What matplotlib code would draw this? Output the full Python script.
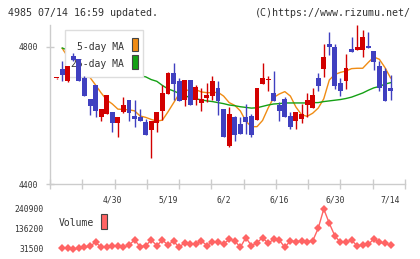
import numpy as np
import matplotlib
matplotlib.use('Agg')
import matplotlib.pyplot as plt
from matplotlib.patches import Rectangle

# ---------------- data ----------------
opens = [4708, 4735, 4701, 4773, 4764, 4708, 4648, 4688, 4596, 4603,
         4610, 4579, 4610, 4645, 4598, 4596, 4581, 4557, 4579, 4614,
         4663, 4723, 4700, 4645, 4702, 4645, 4637, 4650, 4656, 4679,
         4618, 4511, 4594, 4574, 4594, 4597, 4587, 4691, 4702, 4665,
         4630, 4648, 4598, 4582, 4588, 4630, 4622, 4709, 4736, 4808,
         4799, 4694, 4701, 4793, 4790, 4790, 4803, 4787, 4744, 4729,
         4680]
highs = [4709, 4758, 4744, 4781, 4764, 4715, 4648, 4688, 4618, 4659,
         4610, 4595, 4652, 4645, 4645, 4617, 4590, 4583, 4610, 4688,
         4727, 4751, 4708, 4702, 4702, 4688, 4680, 4695, 4715, 4700,
         4618, 4623, 4598, 4596, 4633, 4604, 4681, 4753, 4715, 4729,
         4640, 4654, 4611, 4610, 4633, 4666, 4679, 4724, 4808, 4842,
         4808, 4708, 4779, 4829, 4863, 4849, 4843, 4787, 4758, 4737,
         4717]
lows = [4707, 4701, 4698, 4758, 4700, 4656, 4601, 4596, 4582, 4603,
        4552, 4538, 4606, 4582, 4567, 4582, 4543, 4475, 4552, 4586,
        4663, 4645, 4642, 4628, 4631, 4630, 4614, 4640, 4645, 4601,
        4538, 4507, 4526, 4547, 4546, 4538, 4587, 4691, 4671, 4643,
        4582, 4596, 4561, 4561, 4579, 4594, 4622, 4671, 4713, 4777,
        4677, 4656, 4677, 4783, 4790, 4769, 4797, 4732, 4672, 4643,
        4645]
closes = [4708, 4716, 4744, 4761, 4701, 4656, 4628, 4614, 4618, 4659,
          4579, 4595, 4629, 4607, 4588, 4582, 4543, 4583, 4610, 4665,
          4723, 4692, 4642, 4702, 4631, 4683, 4648, 4659, 4700, 4643,
          4538, 4604, 4543, 4547, 4581, 4543, 4681, 4710, 4704, 4643,
          4614, 4596, 4567, 4610, 4604, 4645, 4659, 4686, 4770, 4800,
          4686, 4672, 4738, 4783, 4799, 4829, 4797, 4756, 4681, 4643,
          4672]
ma5 = [np.nan, 4795, 4770, 4755, 4738, 4723, 4710, 4688, 4665, 4645,
       4633, 4618, 4617, 4616, 4613, 4598, 4594, 4588, 4583, 4586,
       4610, 4636, 4662, 4671, 4675, 4675, 4668, 4666, 4666, 4667,
       4656, 4637, 4629, 4613, 4583, 4567, 4567, 4585, 4621, 4652,
       4662, 4669, 4656, 4624, 4602, 4597, 4606, 4621, 4648, 4703,
       4719, 4725, 4729, 4736, 4737, 4737, 4754, 4770, 4763, 4739,
       4709]
ma25 = [np.nan, 4796, 4790, 4784, 4779, 4773, 4767, 4761, 4755, 4750,
        4744, 4738, 4732, 4726, 4720, 4715, 4712, 4704, 4699, 4687,
        4677, 4671, 4664, 4658, 4651, 4648, 4645, 4642, 4640, 4637,
        4634, 4630, 4628, 4625, 4623, 4621, 4622, 4626, 4630, 4633,
        4634, 4636, 4636, 4636, 4636, 4636, 4637, 4637, 4640, 4642,
        4644, 4646, 4649, 4653, 4659, 4665, 4673, 4680, 4684, 4691,
        4695]
volume = [np.nan, 35000, 35000, 31500, 35000, 40200, 47200, 66400, 40200, 40200,
          48950, 48950, 40200, 52400, 78600, 43700, 48950, 78600, 48950, 78600,
          52400, 73400, 40200, 64650, 57700, 57700, 75100, 48950, 69900, 66400,
          57700, 82100, 75100, 40200, 90800, 48950, 64650, 90800, 61200, 82100,
          78600, 40200, 75100, 69900, 75100, 69900, 73400, 139700, 240900, 165900,
          99550, 66400, 66400, 78600, 47200, 52400, 55900, 83850, 66400, 61200,
          52400]
date_labels = ['4/30', '5/19', '6/2', '6/16', '6/30', '7/14']
date_idx = [10, 20, 30, 40, 50, 60]
price_ticks = [4400, 4800]
price_top = 4863
vol_ticks = [31500, 136200, 240900]

# ---------------- style ----------------
W, H = 420, 259
UP = '#d20000'
DOWN = '#4040c0'
ORANGE = '#f08c14'
GREEN = '#14a014'
VOLC = '#ff6464'
AXC = '#cccccc'
TXT = '#333333'
FONT = 'DejaVu Sans Mono'
plt.rcParams['font.family'] = FONT

def fx(px):
    return px / W

def fy(py):
    return 1 - py / H

fig = plt.figure(figsize=(W / 100, H / 100), dpi=100)
fig.patch.set_facecolor('white')

n = len(opens)
x = np.arange(n)
x0 = -1.2
x1 = 62.6

# ---- main price axes ----
ax = fig.add_axes([fx(50), fy(184), fx(405) - fx(50), fy(25) - fy(184)])
ax.set_xlim(x0, x1)
ax.set_ylim(price_ticks[0], price_top)
for s in ['top', 'right']:
    ax.spines[s].set_visible(False)
for s in ['left', 'bottom']:
    ax.spines[s].set_color(AXC)
    ax.spines[s].set_linewidth(1.0)

o = np.array(opens, float)
c = np.array(closes, float)
h = np.array(highs, float)
l = np.array(lows, float)
up = c >= o
cols = np.where(up, UP, DOWN)
bottoms = np.minimum(o, c)
heights = np.maximum(np.abs(c - o), 2.5)

ax.plot(x, ma5, color=ORANGE, lw=1.0, zorder=2)
ax.plot(x, ma25, color=GREEN, lw=1.0, zorder=2)

# legend box (drawn under candles, above MA lines)
ax.add_patch(Rectangle((fx(65), fy(77)), fx(143) - fx(65), fy(30) - fy(77),
                       transform=fig.transFigure, facecolor='white',
                       edgecolor='#dddddd', lw=1.0, zorder=3, clip_on=False))
ax.text(fx(124), fy(46.5), '5-day MA', transform=fig.transFigure, ha='right',
        va='center', fontsize=7, color=TXT, zorder=3.5)
ax.text(fx(124), fy(63.5), '25-day MA', transform=fig.transFigure, ha='right',
        va='center', fontsize=7, color=TXT, zorder=3.5)
ax.add_patch(Rectangle((fx(132), fy(51.5)), fx(138) - fx(132), fy(37.5) - fy(51.5),
                       transform=fig.transFigure, facecolor=ORANGE,
                       edgecolor='#444444', lw=0.8, zorder=3.5, clip_on=False))
ax.add_patch(Rectangle((fx(132), fy(68.5)), fx(138) - fx(132), fy(54.5) - fy(68.5),
                       transform=fig.transFigure, facecolor=GREEN,
                       edgecolor='#444444', lw=0.8, zorder=3.5, clip_on=False))

ax.vlines(x, l, h, colors=cols, lw=1.0, zorder=4)
ax.bar(x, heights, bottom=bottoms, width=0.88, color=cols, lw=0, zorder=4.5)

ax.set_yticks(price_ticks)
ax.set_yticklabels([str(t) for t in price_ticks])
ax.tick_params(axis='y', direction='inout', length=6, width=1, color=AXC,
               pad=5.5, labelsize=5.8, labelcolor=TXT)
ax.set_xticks(np.linspace(x0, x1, 12))
ax.set_xticklabels([])
ax.tick_params(axis='x', which='major', direction='inout', length=6.5, width=1,
               color=AXC)
ax.set_xticks(date_idx, minor=True)
ax.set_xticklabels(date_labels, minor=True)
ax.tick_params(axis='x', which='minor', length=0, pad=8, labelsize=5.8,
               labelcolor=TXT)

# ---- volume axes ----
av = fig.add_axes([fx(50), fy(249), fx(405) - fx(50), fy(209) - fy(249)])
av.set_xlim(x0, x1)
av.set_ylim(vol_ticks[0], vol_ticks[-1])
av.set_facecolor('none')
for s in av.spines.values():
    s.set_visible(False)
av.plot(x, volume, color=VOLC, lw=1.0, marker='D', ms=4.2, mew=0,
        clip_on=False, zorder=3)
av.set_xticks([])
av.set_yticks(vol_ticks)
av.set_yticklabels([str(t) for t in vol_ticks])
av.tick_params(axis='y', length=0, pad=4.5, labelsize=5.8, labelcolor=TXT)

fig.text(fx(59), fy(222.5), 'Volume', ha='left', va='center', fontsize=7,
         color=TXT)
fig.patches.append(Rectangle((fx(101), fy(228.5)), fx(107) - fx(101),
                             fy(213.5) - fy(228.5), transform=fig.transFigure,
                             facecolor=VOLC, edgecolor='#444444', lw=0.8))

# ---- header ----
fig.text(fx(8), fy(12.5), '4985 07/14 16:59 updated.', ha='left', va='center',
         fontsize=7.2, color=TXT)
fig.text(fx(411), fy(12.5), '(C)https://www.rizumu.net/', ha='right',
         va='center', fontsize=7.2, color=TXT)

fig.savefig('out.png', dpi=100, facecolor='white')
